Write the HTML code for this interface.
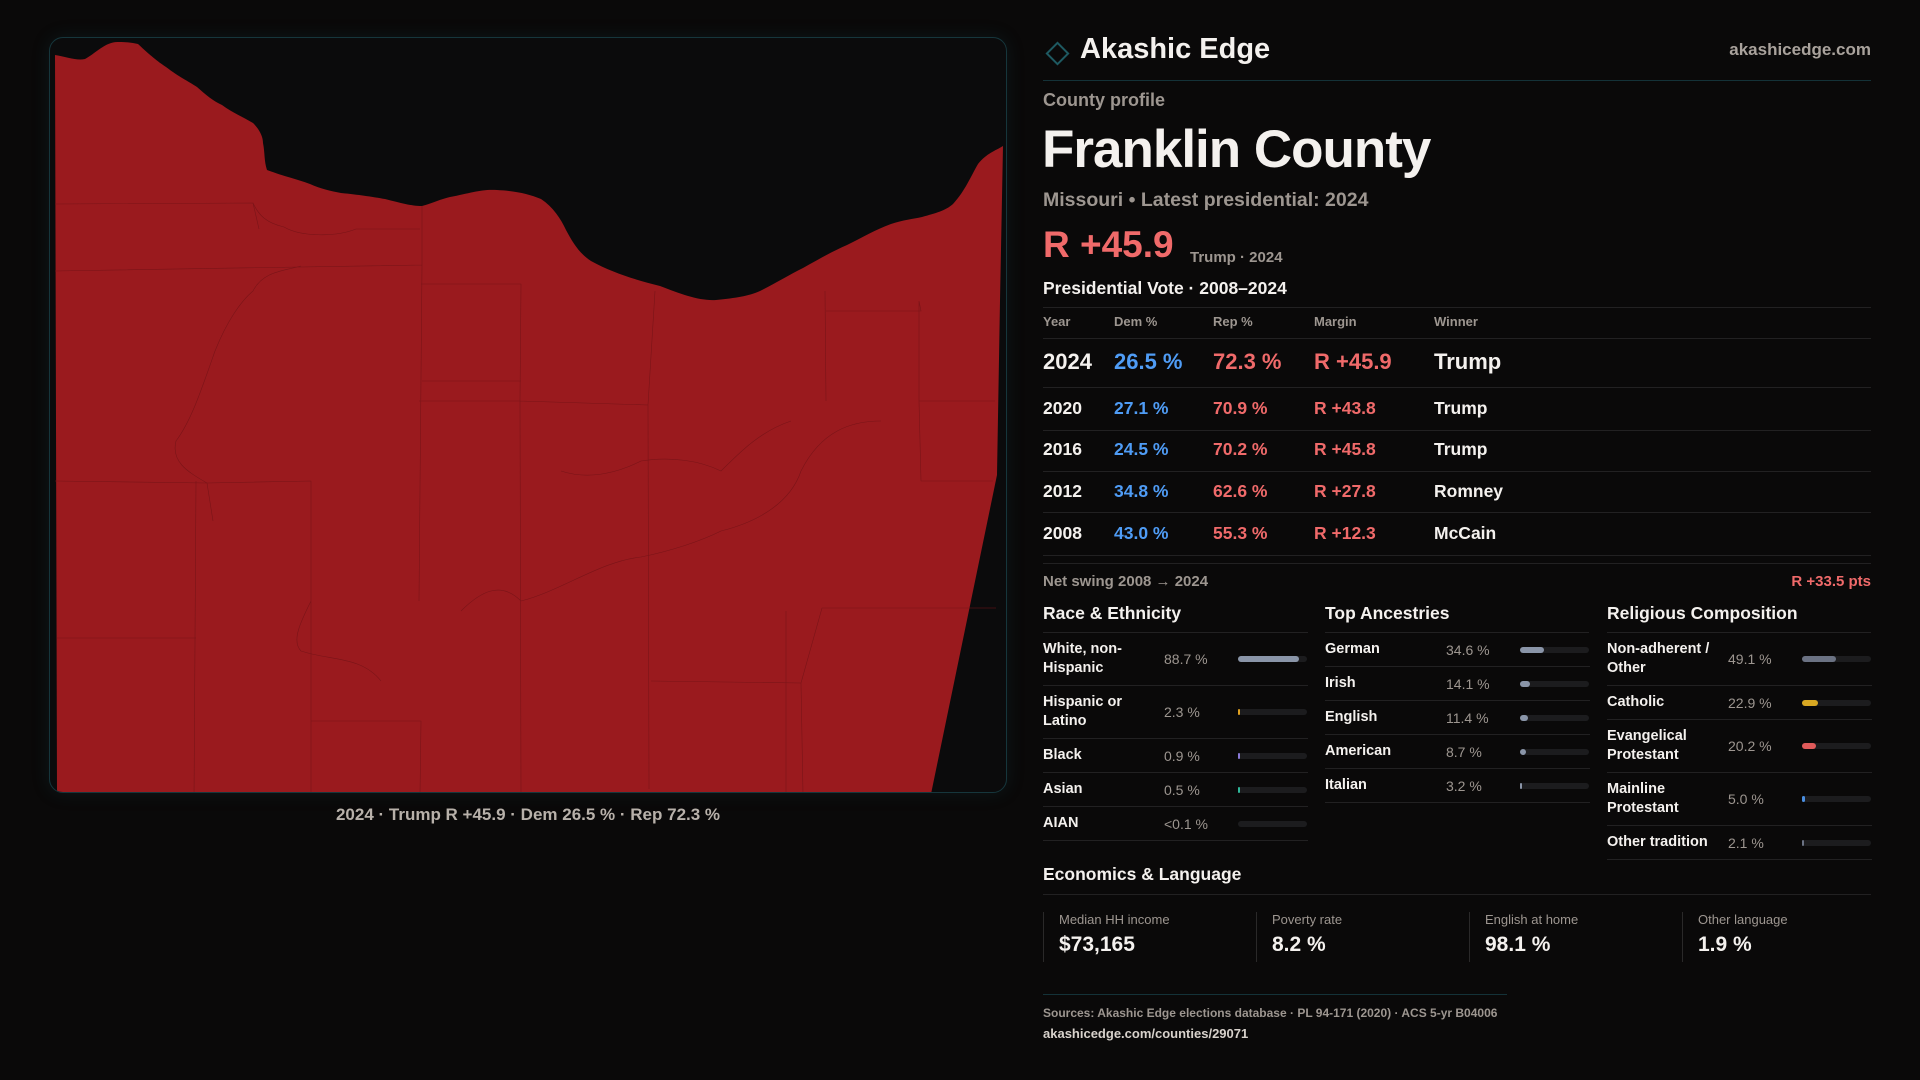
<!DOCTYPE html>
<html><head><meta charset="utf-8">
<style>
*{margin:0;padding:0;box-sizing:border-box}
body{width:1920px;height:1080px;background:#0a0909;color:#f4f1ee;font-family:"Liberation Sans",sans-serif;position:relative;overflow:hidden}
.a{position:absolute;white-space:nowrap}
.g{color:#9d9690}
.dem{color:#4f9cf5}.rep{color:#f06a6a}
.hl{position:absolute;height:1px;background:#222122}
#panel{position:absolute;left:49px;top:37px;width:958px;height:756px;border:1px solid #16363c;border-radius:14px;background:#0b0b0c;box-shadow:0 0 18px rgba(30,90,100,0.18);overflow:hidden}
.sec{position:absolute;top:632px;width:265px}
.row{display:flex;align-items:center;border-bottom:1px solid #222122;padding:7px 0}
.row .l{width:121px;font-size:14.5px;font-weight:bold;line-height:19px;white-space:normal}
.row .v{width:74px;font-size:14px;color:#9d9690}
.row .t{width:69px;height:6px;border-radius:3px;background:#1c1c1e;position:relative}
.row .f{position:absolute;left:0;top:0;height:6px;border-radius:3px}
.card{position:absolute;top:912px;height:50px;border-left:1px solid #2a2929;padding-left:15px}
.card .cl{font-size:13px;color:#9d9690}
.card .cv{font-size:21px;font-weight:bold;margin-top:6px}
</style></head><body>

<div id="panel">
<svg width="958" height="756" viewBox="49 37 958 756" style="display:block">
<path fill="#9a1a1e" d="M54,54 C66,56 76,60 84,58 C95,52 105,40 118,41 C127,41 132,42 137,43 C150,55 156,60 165,66 C178,76 187,80 196,86 C205,94 212,100 221,104 C232,112 242,116 252,122 C258,128 262,135 262,142 C264,152 263,160 266,169 C285,176 296,178 309,183 C320,188 330,190 340,192 C360,194 372,196 384,198 C400,202 410,205 421,205 C432,202 440,198 449,196 C470,192 480,188 496,189 C515,190 528,193 540,198 C552,206 560,218 565,229 C572,242 578,252 590,260 C612,272 635,279 659,285 C680,293 698,300 715,299 C735,297 748,295 759,290 C775,282 788,274 802,267 C818,258 832,250 846,244 C862,236 876,228 890,223 C902,219 912,218 921,216 C935,212 944,210 952,203 C964,190 970,175 977,163 C986,152 994,150 1002,145 L999,300 L996,474 L930,793 L56,793 Z"/>
<g fill="none" stroke="#7a1418" stroke-width="0.6">
<path d="M54,203 L252,202 L258,228 M54,270 L421,264 M421,205 L421,264 L418,600 M252,202 C258,215 266,222 283,226 C300,236 335,236 355,228 L419,228 M54,480 L206,482 L212,520 M206,482 C185,470 170,460 175,440 C190,420 200,390 214,350 C226,320 240,300 252,290 C262,270 283,270 300,265 M206,482 L310,480 L310,850 M195,480 L193,800 M56,637 L195,637 M310,720 L420,720 L419,793 M418,400 L519,400 L520,793 M420,283 L520,283 L519,400 M519,400 L647,404 L648,788 M647,404 L654,290 M650,680 L800,682 L802,793 M800,682 L821,607 L995,607 M825,400 L824,290 M825,310 L920,310 L918,300 M918,300 L918,400 L994,400 M918,400 L920,480 L992,480 M785,610 L785,793 M520,600 C560,590 600,560 640,556 C670,550 700,540 720,530 C760,520 790,500 800,470 C820,430 850,420 880,420 M560,470 C590,480 620,470 640,460 C670,455 700,460 720,470 C740,450 760,430 790,420 M460,610 C480,590 500,580 520,600 M310,600 C300,620 290,640 300,650 C330,660 360,655 380,680 M421,380 L520,380"/>
</g>
</svg>
</div>
<div class="a g" style="left:528px;top:805px;transform:translateX(-50%);font-size:17px;font-weight:bold;color:#b8b1aa">2024 · Trump R +45.9 · Dem 26.5 % · Rep 72.3 %</div>

<div class="a" style="left:1049px;top:45px;width:17px;height:17px;border:2px solid #1e5a62;transform:rotate(45deg)"></div>
<div class="a" style="left:1080px;top:33px;font-size:29px;font-weight:bold">Akashic Edge</div>
<div class="a g" style="right:49px;top:40px;font-size:17px;font-weight:bold;color:#a9a29c">akashicedge.com</div>
<div class="hl" style="left:1043px;top:80px;width:828px;background:#143238"></div>

<div class="a g" style="left:1043px;top:90px;font-size:18px;font-weight:bold">County profile</div>
<div class="a" style="left:1042px;top:119px;font-size:53px;font-weight:bold;letter-spacing:-1px">Franklin County</div>
<div class="a g" style="left:1043px;top:189px;font-size:19.5px;font-weight:bold">Missouri • Latest presidential: 2024</div>
<div class="a rep" style="left:1043px;top:224px;font-size:37px;font-weight:bold">R +45.9</div>
<div class="a g" style="left:1190px;top:249px;font-size:15px;font-weight:bold">Trump · 2024</div>
<div class="a" style="left:1043px;top:278px;font-size:17.5px;font-weight:bold">Presidential Vote · 2008–2024</div>

<div id="votes"></div>

<div class="a g" style="left:1043px;top:573px;font-size:15px;font-weight:bold">Net swing 2008 → 2024</div>
<div class="a rep" style="right:49px;top:573px;font-size:15px;font-weight:bold">R +33.5 pts</div>

<div class="a" style="left:1043px;top:603px;font-size:17.5px;font-weight:bold">Race &amp; Ethnicity</div>
<div class="a" style="left:1325px;top:603px;font-size:17.5px;font-weight:bold">Top Ancestries</div>
<div class="a" style="left:1607px;top:603px;font-size:17.5px;font-weight:bold">Religious Composition</div>
<div class="hl" style="left:1043px;top:632px;width:265px"></div>
<div class="hl" style="left:1325px;top:632px;width:264px"></div>
<div class="hl" style="left:1607px;top:632px;width:264px"></div>
<div class="sec" id="race" style="left:1043px;top:633px"></div>
<div class="sec" id="anc" style="left:1325px;top:633px"></div>
<div class="sec" id="rel" style="left:1607px;top:633px"></div>

<div class="a" style="left:1043px;top:864px;font-size:17.5px;font-weight:bold">Economics &amp; Language</div>
<div class="hl" style="left:1043px;top:894px;width:828px"></div>
<div class="card" style="left:1043px"><div class="cl">Median HH income</div><div class="cv">$73,165</div></div>
<div class="card" style="left:1256px"><div class="cl">Poverty rate</div><div class="cv">8.2 %</div></div>
<div class="card" style="left:1469px"><div class="cl">English at home</div><div class="cv">98.1 %</div></div>
<div class="card" style="left:1682px"><div class="cl">Other language</div><div class="cv">1.9 %</div></div>

<div class="hl" style="left:1043px;top:994px;width:464px;background:#143238"></div>
<div class="a g" style="left:1043px;top:1006px;font-size:12px;font-weight:bold">Sources: Akashic Edge elections database · PL 94-171 (2020) · ACS 5-yr B04006</div>
<div class="a" style="left:1043px;top:1026px;font-size:13px;font-weight:bold;color:#d8d2cc">akashicedge.com/counties/29071</div>

<script>
const voteYears=[2024,2020,2016,2012,2008];
const demPct=[26.5,27.1,24.5,34.8,43.0];
const repPct=[72.3,70.9,70.2,62.6,55.3];
const margins=[45.9,43.8,45.8,27.8,12.3];
const winners=["Trump","Trump","Trump","Romney","McCain"];

const raceLabels=["White, non-Hispanic","Hispanic or Latino","Black","Asian","AIAN"];
const raceValues=[88.7,2.3,0.9,0.5,0.05];
const raceText=["88.7 %","2.3 %","0.9 %","0.5 %","<0.1 %"];
const raceColors=["#8a95a8","#e0a020","#8a7ad8","#2fb89a","#555"];

const ancLabels=["German","Irish","English","American","Italian"];
const ancValues=[34.6,14.1,11.4,8.7,3.2];
const ancColors=["#8a95a8","#8a95a8","#8a95a8","#8a95a8","#8a95a8"];

const relLabels=["Non-adherent / Other","Catholic","Evangelical Protestant","Mainline Protestant","Other tradition"];
const relValues=[49.1,22.9,20.2,5.0,2.1];
const relColors=["#6b7283","#d9a822","#e05a5a","#4a8ee0","#6b7283"];

const vt=document.getElementById('votes');
const cols=[1043,1114,1213,1314,1434];
function txt(x,y,s,cls,size,name){
  const d=document.createElement('div');
  d.className='a '+(cls||'');
  d.style.left=x+'px';d.style.top=y+'px';d.style.fontSize=size+'px';d.style.fontWeight='bold';
  d.textContent=s;
  
  
  vt.appendChild(d);return d;
}
function hl(y){const d=document.createElement('div');d.className='hl';d.style.left='1043px';d.style.top=y+'px';d.style.width='828px';vt.appendChild(d);}
hl(307);
["Year","Dem %","Rep %","Margin","Winner"].forEach((h,i)=>txt(cols[i],314,h,'g',13,'column-header'));
hl(338);
const rowTop=[349,398,439,481,523];
const lines=[387,430,471,512,555];
voteYears.forEach((y,i)=>{
  const big=i===0, sz=big?22:17.5;
  txt(cols[0],rowTop[i],String(y),'',sz,'vote-year');
  txt(cols[1],rowTop[i],demPct[i].toFixed(1)+' %','dem',sz,'dem-pct');
  txt(cols[2],rowTop[i],repPct[i].toFixed(1)+' %','rep',sz,'rep-pct');
  txt(cols[3],rowTop[i],'R +'+margins[i].toFixed(1),'rep',sz,'vote-margin');
  txt(cols[4],rowTop[i],winners[i],'',sz,'vote-winner');
  hl(lines[i]);
});
hl(563);

function list(id,labels,values,texts,colors,prefix){
  const c=document.getElementById(id);
  labels.forEach((l,i)=>{
    const r=document.createElement('div');r.className='row';
    
    
    const a=document.createElement('div');a.className='l';a.textContent=l;
    const v=document.createElement('div');v.className='v';v.textContent=texts?texts[i]:values[i].toFixed(1)+' %';
    const t=document.createElement('div');t.className='t';
    const f=document.createElement('div');f.className='f';
    
    
    const w=values[i]<0.1?0:Math.max(2,69*values[i]/100);
    f.style.width=w+'px';f.style.background=colors[i];
    t.appendChild(f);r.appendChild(a);r.appendChild(v);r.appendChild(t);c.appendChild(r);
  });
}
list('race',raceLabels,raceValues,raceText,raceColors,'race');
list('anc',ancLabels,ancValues,null,ancColors,'ancestry');
list('rel',relLabels,relValues,null,relColors,'religion');
</script>
</body></html>
